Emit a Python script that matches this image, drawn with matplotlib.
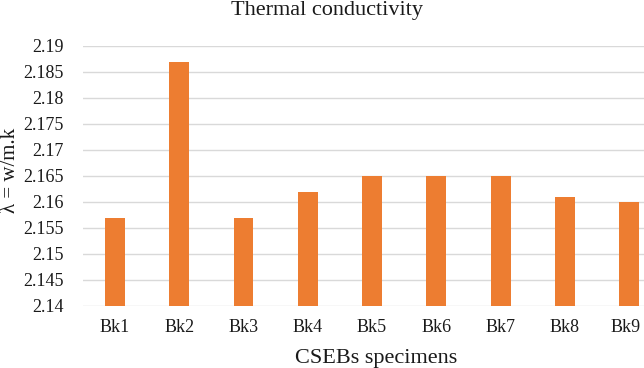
import matplotlib
matplotlib.use("Agg")
import matplotlib.pyplot as plt
import matplotlib.transforms as mtransforms
from matplotlib.ticker import MultipleLocator, FuncFormatter

categories = ["Bk1", "Bk2", "Bk3", "Bk4", "Bk5", "Bk6", "Bk7", "Bk8", "Bk9"]
values = [2.157, 2.187, 2.157, 2.162, 2.165, 2.165, 2.165, 2.161, 2.160]

plt.rcParams['font.family'] = ['Liberation Serif', 'DejaVu Serif']

W, H = 644, 368
fig = plt.figure(figsize=(W/100, H/100), dpi=100)
left = 82.75 / W
right = 644 / W
bottom = (H - 306) / H
top = (H - 46) / H
ax = fig.add_axes([left, bottom, right - left, top - bottom])

x = list(range(len(categories)))
ax.bar(x, values, width=0.31, color="#ED7D31", zorder=3)
ax.set_ylim(2.14, 2.19)
ax.set_xlim(-0.5, 8.23)
ax.yaxis.set_major_locator(MultipleLocator(0.005))
ax.yaxis.set_major_formatter(FuncFormatter(lambda v, p: f"{round(v, 3):g}"))
ax.set_xticks(x)
ax.set_xticklabels(categories)
ax.grid(axis="y", color="#D9D9D9", linewidth=1, zorder=0)
for s in ax.spines.values():
    s.set_visible(False)
ax.tick_params(axis="both", length=0, labelsize=13, colors="#1a1a1a")
ax.tick_params(axis="y", pad=14)
ax.tick_params(axis="x", pad=9)
last = ax.get_xticklabels()[-1]
last.set_transform(last.get_transform() + mtransforms.ScaledTranslation(-4/100, 0, fig.dpi_scale_trans))

fig.text(327 / W, 1 - 15 / H, "Thermal conductivity", ha="center", va="baseline", fontsize=16, color="#1a1a1a")
fig.text(376 / W, 1 - 363 / H, "CSEBs specimens", ha="center", va="baseline", fontsize=16, color="#1a1a1a")
fig.text(11 / W, 1 - 170 / H, "λ = w/m.k", ha="center", va="center", rotation=90, fontsize=15, color="#1a1a1a")

fig.savefig("out.png", dpi=100)
